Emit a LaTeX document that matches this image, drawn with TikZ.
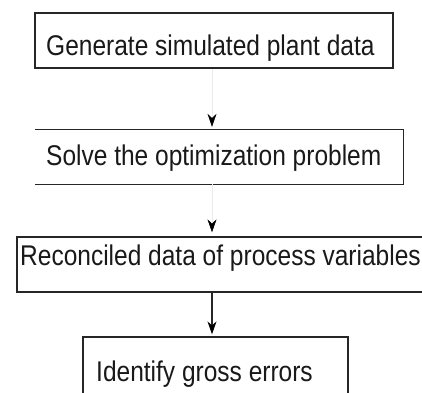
\documentclass[tikz,border=0pt]{standalone}
\usepackage{fontspec}
\newfontfamily\boxfont[FakeStretch=0.86]{Liberation Sans}
\usetikzlibrary{arrows.meta}

\tikzset{
  stepbox/.style={rectangle, draw=black!85, line width=1.3pt, inner sep=0pt},
  openbox/.style={rectangle, draw=none, inner sep=0pt},
  boxtext/.style={anchor=base west, inner sep=0pt, font=\boxfont\fontsize{28.5}{30}\selectfont, text=black!90},
  flow/.style={draw=black!85, line width=1.1pt, -{Stealth[length=13pt, width=9pt, color=black]}},
  faintflow/.style={draw=black!8, line width=0.6pt, -{Stealth[length=13pt, width=9pt, color=black]}}
}

\begin{document}
\begin{tikzpicture}[x=1pt, y=-1pt]
  \useasboundingbox (0,0) rectangle (422,392);
  \clip (0,0) rectangle (422,392);

  % process boxes
  \node[stepbox, minimum width=358pt, minimum height=55pt] (b1) at (214,40.5) {};
  \node[openbox, minimum width=368pt, minimum height=54pt] (b2) at (219,157) {};
  \node[stepbox, minimum width=423pt, minimum height=55pt] (b3) at (228.5,264.5) {};
  \node[stepbox, minimum width=265pt, minimum height=73pt] (b4) at (215.5,373.5) {};

  % second box is open on its left side
  \draw[draw=black!85, line width=1.3pt]
    (b2.north west) -- (b2.north east) -- (b2.south east) -- (b2.south west);

  % labels
  \node[boxtext] (t1) at (46,55) {Generate simulated plant data};
  \node[boxtext] (t2) at (46,165) {Solve the optimization problem};
  \node[boxtext] (t3) at (20,265) {Reconciled data of process variables};
  \node[boxtext] (t4) at (96,381) {Identify gross errors};

  % connectors
  \coordinate (ax) at (212,0);
  \draw[faintflow, shorten >=3pt] (b1.south -| ax) -- (b2.north -| ax);
  \draw[faintflow, shorten >=4pt] (b2.south -| ax) -- (b3.north -| ax);
  \draw[flow, shorten >=2pt] (b3.south -| ax) -- (b4.north -| ax);
\end{tikzpicture}
\end{document}
